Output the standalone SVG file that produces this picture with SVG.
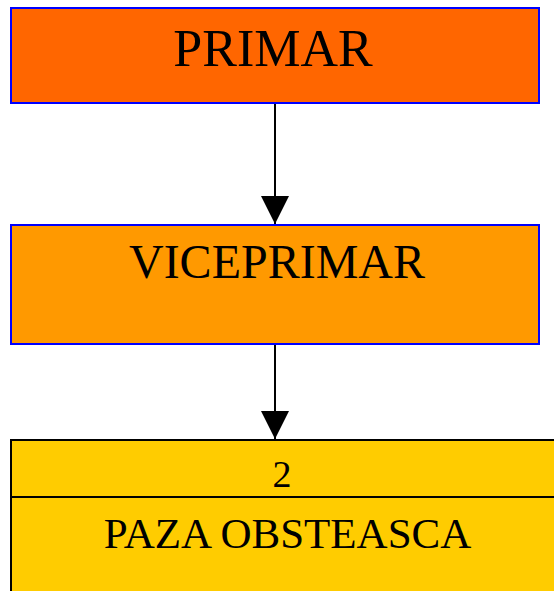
<svg xmlns="http://www.w3.org/2000/svg" width="554" height="591" viewBox="0 0 554 591">
<defs>
<style>
text{font-family:"Liberation Serif","Times New Roman",serif;fill:#000;text-anchor:middle}
.conn{stroke:#000;stroke-width:2;fill:none}
</style>
<marker id="ah" markerUnits="userSpaceOnUse" markerWidth="28" markerHeight="28" viewBox="0 0 28 28" refX="28" refY="14" orient="auto">
<path d="M0,0 L28,14 L0,28 Z" fill="#000"/>
</marker>
</defs>
<rect width="554" height="591" fill="#fff"/>
<g id="connectors">
<line class="conn" x1="275" y1="104" x2="275" y2="224" marker-end="url(#ah)"/>
<line class="conn" x1="275" y1="345" x2="275" y2="439" marker-end="url(#ah)"/>
</g>
<g id="primar">
<rect x="11" y="8" width="528" height="95" fill="#FF6600" stroke="#0000FF" stroke-width="2"/>
<text x="273" y="66" font-size="52">PRIMAR</text>
</g>
<g id="viceprimar">
<rect x="11" y="225" width="528" height="119" fill="#FF9900" stroke="#0000FF" stroke-width="2"/>
<text x="277" y="278" font-size="48">VICEPRIMAR</text>
</g>
<g id="paza">
<rect x="11" y="440" width="560" height="170" fill="#FFCC00" stroke="#000" stroke-width="2"/>
<line x1="11" y1="497" x2="571" y2="497" stroke="#000" stroke-width="2"/>
<text x="282" y="487" font-size="38">2</text>
<text x="287.5" y="548" font-size="43">PAZA OBSTEASCA</text>
</g>
</svg>
